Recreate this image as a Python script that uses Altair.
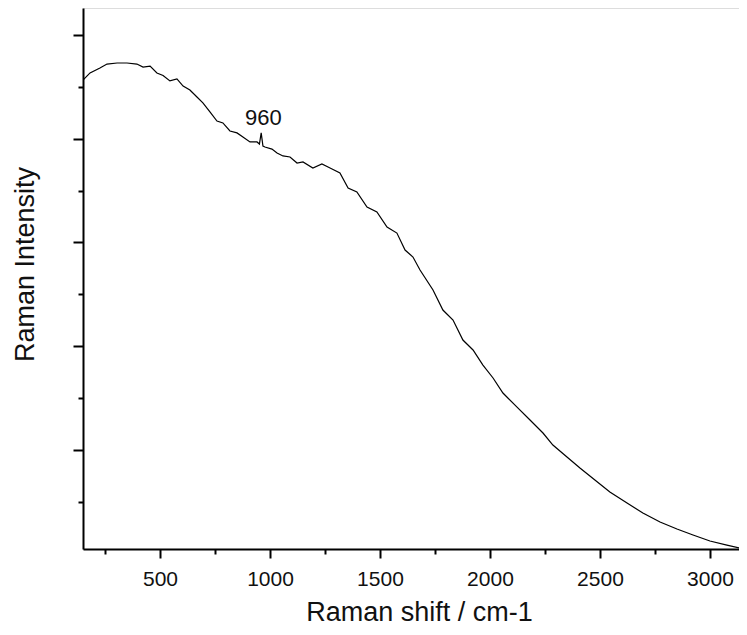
import altair as alt
import pandas as pd

# Raman spectrum (arbitrary intensity units)
shift = [150, 182, 227, 259, 305, 350, 395, 423, 455, 486, 514, 545, 577, 605,
         636, 668, 695, 727, 759, 786, 818, 850, 877, 909, 941, 952, 960, 968,
         977, 1009, 1032, 1059, 1091, 1123, 1150, 1195, 1236, 1273, 1318, 1355,
         1395, 1441, 1486, 1532, 1577, 1614, 1650, 1682, 1741, 1786, 1832, 1877,
         1923, 1968, 2014, 2059, 2123, 2182, 2241, 2286, 2350, 2409, 2477, 2545,
         2623, 2695, 2773, 2850, 2923, 3000, 3077, 3136, 3159]
intensity = [4.565, 4.634, 4.682, 4.72, 4.73, 4.73, 4.72, 4.69, 4.70, 4.634, 4.61,
             4.557, 4.576, 4.508, 4.47, 4.402, 4.345, 4.258, 4.171, 4.152, 4.075,
             4.056, 4.017, 3.969, 3.969, 3.949, 4.056, 3.93, 3.92, 3.90, 3.863,
             3.834, 3.824, 3.766, 3.776, 3.718, 3.757, 3.718, 3.670, 3.525, 3.487,
             3.342, 3.294, 3.149, 3.091, 2.927, 2.860, 2.735, 2.542, 2.349, 2.253,
             2.060, 1.964, 1.819, 1.694, 1.549, 1.414, 1.289, 1.164, 1.048, 0.933,
             0.826, 0.711, 0.595, 0.489, 0.393, 0.306, 0.239, 0.181, 0.123, 0.084,
             0.055, 0.05]

ann_x = [970]
ann_y = [4.13]
ann_text = ["960"]

x_ticks = [250, 500, 750, 1000, 1250, 1500, 1750, 2000, 2250, 2500, 2750, 3000]
y_ticks = [0.5, 1, 1.5, 2, 2.5, 3, 3.5, 4, 4.5, 5]

df = pd.DataFrame({"shift": shift, "intensity": intensity})
ann = pd.DataFrame({"x": ann_x, "y": ann_y, "t": ann_text})

FONT = "Liberation Sans"

xscale = alt.Scale(domain=[150, 3132], nice=False, zero=False)
yscale = alt.Scale(domain=[0.046, 5.26], nice=False, zero=False)

xaxis = alt.Axis(
    title="Raman shift / cm-1",
    values=x_ticks,
    format="d",
    labelExpr="datum.value % 500 === 0 ? datum.label : ''",
    tickSize={"condition": {"test": "datum.value % 500 === 0", "value": 9}, "value": 5},
    labelPadding=27,
    labelBaseline="alphabetic",
    labelFont=FONT, labelFontSize=21, labelColor="#111",
    titleFont=FONT, titleFontSize=27, titleFontWeight="normal", titleColor="#111",
    titleX=336, titleY=71, titleBaseline="alphabetic", titleAnchor="start", titleAlign="center",
    domainColor="black", domainWidth=2, tickColor="black", tickWidth=2,
    grid=False, labelFlush=False, labelOverlap=False,
)
yaxis = alt.Axis(
    title="Raman Intensity",
    values=y_ticks,
    labels=False,
    tickSize={"condition": {"test": "datum.value % 1 === 0", "value": 10}, "value": 5},
    titleFont=FONT, titleFontSize=27, titleFontWeight="normal", titleColor="#111",
    titleX=-50, titleY=256, titleBaseline="alphabetic", titleAlign="center", titleAngle=270,
    domainColor="black", domainWidth=2, tickColor="black", tickWidth=2,
    grid=False,
)

line = alt.Chart(df).mark_line(color="black", strokeWidth=1.2, clip=True).encode(
    x=alt.X("shift:Q", scale=xscale, axis=xaxis),
    y=alt.Y("intensity:Q", scale=yscale, axis=yaxis),
)

text = alt.Chart(ann).mark_text(font=FONT, fontSize=22, color="#111",
                                align="center", baseline="alphabetic").encode(
    x=alt.X("x:Q", scale=xscale),
    y=alt.Y("y:Q", scale=yscale),
    text="t:N",
)

chart = (line + text).properties(
    width=656, height=541,
    autosize=alt.AutoSizeParams(type="none"),
    padding={"left": 75, "top": 0, "right": 0, "bottom": 78},
).configure_view(stroke=None).configure(background="white")

chart.save("out.html", embed_options={"renderer": "svg", "actions": False})
